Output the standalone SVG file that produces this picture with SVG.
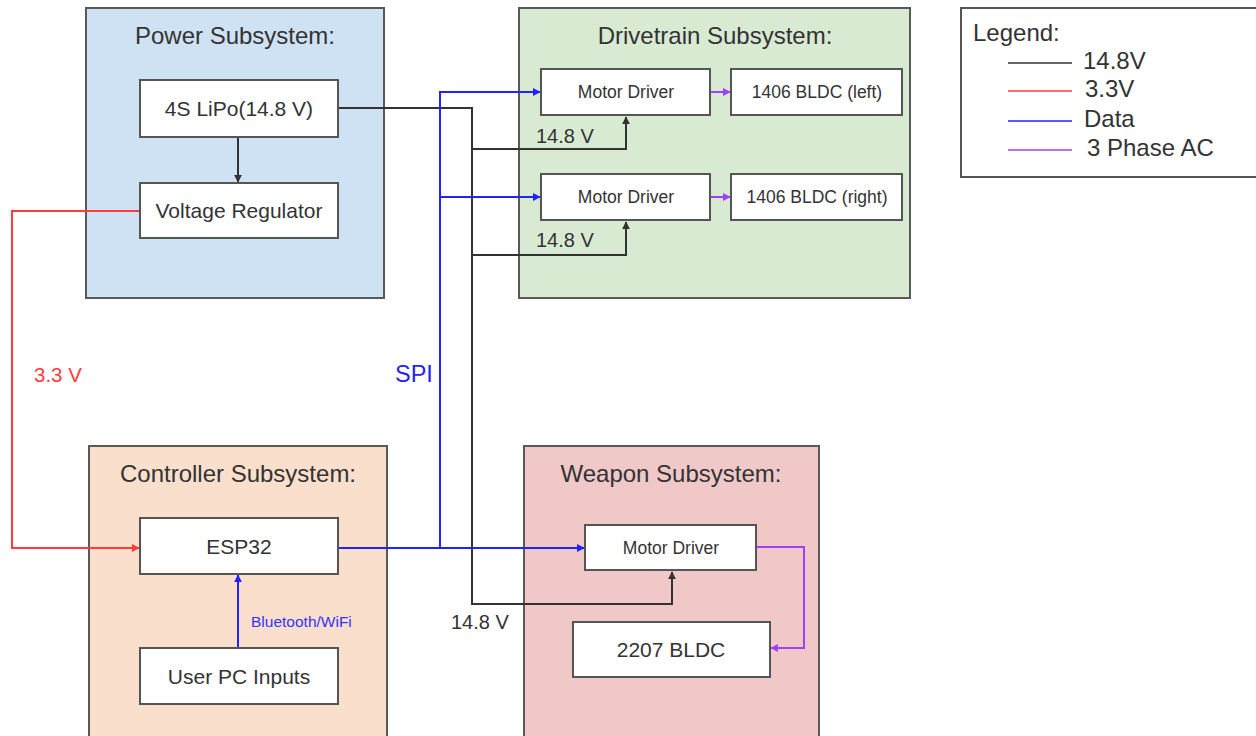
<svg xmlns="http://www.w3.org/2000/svg" width="1256" height="736" viewBox="0 0 1256 736">
<defs>
<style>
text{font-family:"Liberation Sans",Arial,sans-serif;fill:#333}
.sub{stroke:#595959;stroke-width:2}
.box{fill:#fff;stroke:#555;stroke-width:2}
.title{font-size:24px;text-anchor:middle}
.lbl{font-size:21px;text-anchor:middle}
.sm{font-size:17.5px;text-anchor:middle}
.v{font-size:20px}
.k{fill:none;stroke:#333;stroke-width:2}
.r{fill:none;stroke:#ff3b3b;stroke-width:2}
.b{fill:none;stroke:#2222ff;stroke-width:2}
.p{fill:none;stroke:#a040ff;stroke-width:2}
</style>
<marker id="ak" viewBox="0 0 10 10" refX="9" refY="5" markerWidth="4" markerHeight="4" orient="auto"><path d="M0,0L10,5L0,10z" fill="#333"/></marker>
<marker id="ar" viewBox="0 0 10 10" refX="9" refY="5" markerWidth="4" markerHeight="4" orient="auto"><path d="M0,0L10,5L0,10z" fill="#ff3b3b"/></marker>
<marker id="ab" viewBox="0 0 10 10" refX="9" refY="5" markerWidth="4" markerHeight="4" orient="auto"><path d="M0,0L10,5L0,10z" fill="#2222ff"/></marker>
<marker id="ap" viewBox="0 0 10 10" refX="9" refY="5" markerWidth="4" markerHeight="4" orient="auto"><path d="M0,0L10,5L0,10z" fill="#a040ff"/></marker>
</defs>
<rect width="1256" height="736" fill="#fff"/>

<g id="power-subsystem">
<rect class="sub" x="86" y="8" width="298" height="290" fill="#cfe2f3"/>
<text class="title" x="235" y="44">Power Subsystem:</text>
</g>
<g id="drivetrain-subsystem">
<rect class="sub" x="519" y="8" width="391" height="290" fill="#d9ead3"/>
<text class="title" x="715" y="44">Drivetrain Subsystem:</text>
</g>
<g id="controller-subsystem">
<rect class="sub" x="89" y="446" width="298" height="292" fill="#fae0cc"/>
<text class="title" x="238" y="482">Controller Subsystem:</text>
</g>
<g id="weapon-subsystem">
<rect class="sub" x="524" y="446" width="295" height="292" fill="#f0c8c8"/>
<text class="title" x="671" y="482">Weapon Subsystem:</text>
</g>

<g id="connectors">
<path class="k" d="M338,108H472V604H672V572" marker-end="url(#ak)"/>
<path class="k" d="M472,149H626V117" marker-end="url(#ak)"/>
<path class="k" d="M472,255H626V222" marker-end="url(#ak)"/>
<path class="k" d="M238,137V182" marker-end="url(#ak)"/>
<path class="r" d="M140,211H12V548H139" marker-end="url(#ar)"/>
<path class="b" d="M338,548H584" marker-end="url(#ab)"/>
<path class="b" d="M440,548V92H540" marker-end="url(#ab)"/>
<path class="b" d="M440,197H540" marker-end="url(#ab)"/>
<path class="b" d="M238,648V575" marker-end="url(#ab)"/>
<path class="p" d="M710,92H730" marker-end="url(#ap)"/>
<path class="p" d="M710,197H730" marker-end="url(#ap)"/>
<path class="p" d="M756,547H804V648H771" marker-end="url(#ap)"/>
<text class="v" x="536" y="143">14.8 V</text>
<text class="v" x="536" y="247">14.8 V</text>
<text class="v" x="451" y="629">14.8 V</text>
<text x="34" y="382" font-size="20.5" style="fill:#ff3b3b">3.3 V</text>
<text x="395" y="382" font-size="23.5" style="fill:#2222ff">SPI</text>
<text x="251" y="627" font-size="15.5" style="fill:#3333ff">Bluetooth/WiFi</text>
</g>

<g id="lipo"><rect class="box" x="140" y="80" width="198" height="57"/><text class="lbl" x="239" y="116">4S LiPo(14.8 V)</text></g>
<g id="voltage-regulator"><rect class="box" x="140" y="183" width="198" height="55"/><text class="lbl" x="239" y="218">Voltage Regulator</text></g>
<g id="motor-driver-left"><rect class="box" x="541" y="69" width="169" height="46"/><text class="sm" x="626" y="98">Motor Driver</text></g>
<g id="bldc-left"><rect class="box" x="731" y="69" width="171" height="46"/><text class="sm" x="817" y="98">1406 BLDC (left)</text></g>
<g id="motor-driver-right"><rect class="box" x="541" y="174" width="169" height="46"/><text class="sm" x="626" y="203">Motor Driver</text></g>
<g id="bldc-right"><rect class="box" x="731" y="174" width="171" height="46"/><text class="sm" x="817" y="203">1406 BLDC (right)</text></g>
<g id="esp32"><rect class="box" x="140" y="518" width="198" height="56"/><text class="lbl" x="239" y="554">ESP32</text></g>
<g id="user-pc-inputs"><rect class="box" x="140" y="648" width="198" height="56"/><text class="lbl" x="239" y="684">User PC Inputs</text></g>
<g id="motor-driver-weapon"><rect class="box" x="585" y="525" width="171" height="45"/><text class="sm" x="671" y="554">Motor Driver</text></g>
<g id="bldc-2207"><rect class="box" x="573" y="622" width="197" height="55"/><text class="lbl" x="671" y="657">2207 BLDC</text></g>

<g id="legend">
<rect x="961" y="8" width="300" height="169" fill="#fff" stroke="#555" stroke-width="2"/>
<text x="973" y="41" font-size="24">Legend:</text>
<line x1="1008" y1="63" x2="1072" y2="63" stroke="#333" stroke-width="1.5"/>
<line x1="1008" y1="91" x2="1072" y2="91" stroke="#ff3b3b" stroke-width="1.5"/>
<line x1="1008" y1="121" x2="1072" y2="121" stroke="#2222ff" stroke-width="1.5"/>
<line x1="1008" y1="150" x2="1072" y2="150" stroke="#a040ff" stroke-width="1.5"/>
<text x="1083" y="69" font-size="24">14.8V</text>
<text x="1085" y="97" font-size="24">3.3V</text>
<text x="1084" y="127" font-size="24">Data</text>
<text x="1087" y="156" font-size="24">3 Phase AC</text>
</g>
</svg>
